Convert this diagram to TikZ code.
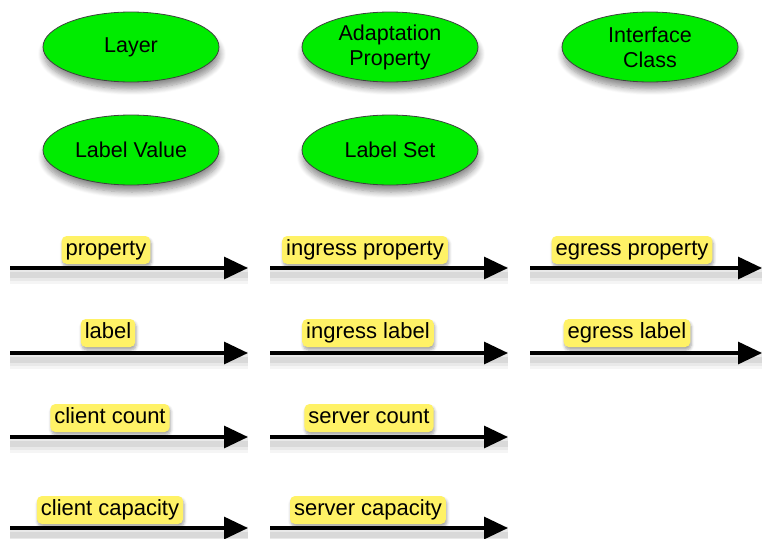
\documentclass[tikz,border=0pt]{standalone}
\usepackage{fontspec}
\setmainfont{Liberation Sans}
\usetikzlibrary{arrows.meta,shapes.geometric,shadows.blur}
\definecolor{ellgreen}{RGB}{0,236,0}
\definecolor{lblyellow}{RGB}{255,242,102}
\tikzset{
  ell/.style={ellipse, draw=black!75, line width=0.8pt, fill=ellgreen,
    minimum width=176pt, minimum height=70pt, inner sep=0pt, align=center,
    font=\fontsize{21.5}{25}\selectfont,
    blur shadow={shadow xshift=1pt, shadow yshift=-7pt, shadow blur radius=6pt, shadow blur steps=8, shadow opacity=45}},
  lbl/.style={rounded corners=5pt, fill=lblyellow, inner xsep=4pt, inner ysep=0pt,
    text height=16pt, text depth=5pt, minimum height=28pt,
    font=\fontsize{22}{22}\selectfont,
    blur shadow={shadow xshift=1pt, shadow yshift=-3pt, shadow blur radius=3pt, shadow blur steps=5, shadow opacity=35}},
  arr/.style={line width=3.2pt, -{Triangle[length=24pt,width=22pt]},
    preaction={draw=black, draw opacity=0.04, line width=18pt, -{}, transform canvas={yshift=-7pt}},
    preaction={draw=black, draw opacity=0.05, line width=12pt, -{}, transform canvas={yshift=-7pt}},
    preaction={draw=black, draw opacity=0.07, line width=6pt, -{}, transform canvas={yshift=-7pt}}}
}
\begin{document}
\begin{tikzpicture}[x=1pt,y=-1pt]
\useasboundingbox (0,0) rectangle (762,538);
% ellipses
\node[ell] (layer) at (131,47) {Layer};
\node[ell] (adapt) at (390,47) {Adaptation\\Property};
\node[ell] (iface) at (650,47) {Interface\\Class};
\node[ell] (lval) at (131,150) {Label Value};
\node[ell] (lset) at (390,150) {Label Set};
% arrow end points
\foreach \r/\y in {1/268,2/353,3/437,4/528}{
  \coordinate (s1\r) at (10,\y);  \coordinate (e1\r) at (248,\y);
  \coordinate (s2\r) at (270,\y); \coordinate (e2\r) at (508,\y);
}
\coordinate (s31) at (530,268); \coordinate (e31) at (762,268);
\coordinate (s32) at (530,353); \coordinate (e32) at (762,353);
% arrows
\draw[arr] (s11) -- (e11);
\draw[arr] (s21) -- (e21);
\draw[arr] (s31) -- (e31);
\draw[arr] (s12) -- (e12);
\draw[arr] (s22) -- (e22);
\draw[arr] (s32) -- (e32);
\draw[arr] (s13) -- (e13);
\draw[arr] (s23) -- (e23);
\draw[arr] (s14) -- (e14);
\draw[arr] (s24) -- (e24);
% labels
\node[lbl] (lprop) at (106,250) {property};
\node[lbl] (liprop) at (365,250) {ingress property};
\node[lbl] (leprop) at (632,250) {egress property};
\node[lbl] (llab) at (108,333) {label};
\node[lbl] (lilab) at (368,333) {ingress label};
\node[lbl] (lelab) at (627,333) {egress label};
\node[lbl] (lcc) at (110,418) {client count};
\node[lbl] (lsc) at (369,418) {server count};
\node[lbl] (lccap) at (110,510) {client capacity};
\node[lbl] (lscap) at (368,510) {server capacity};
\end{tikzpicture}
\end{document}
